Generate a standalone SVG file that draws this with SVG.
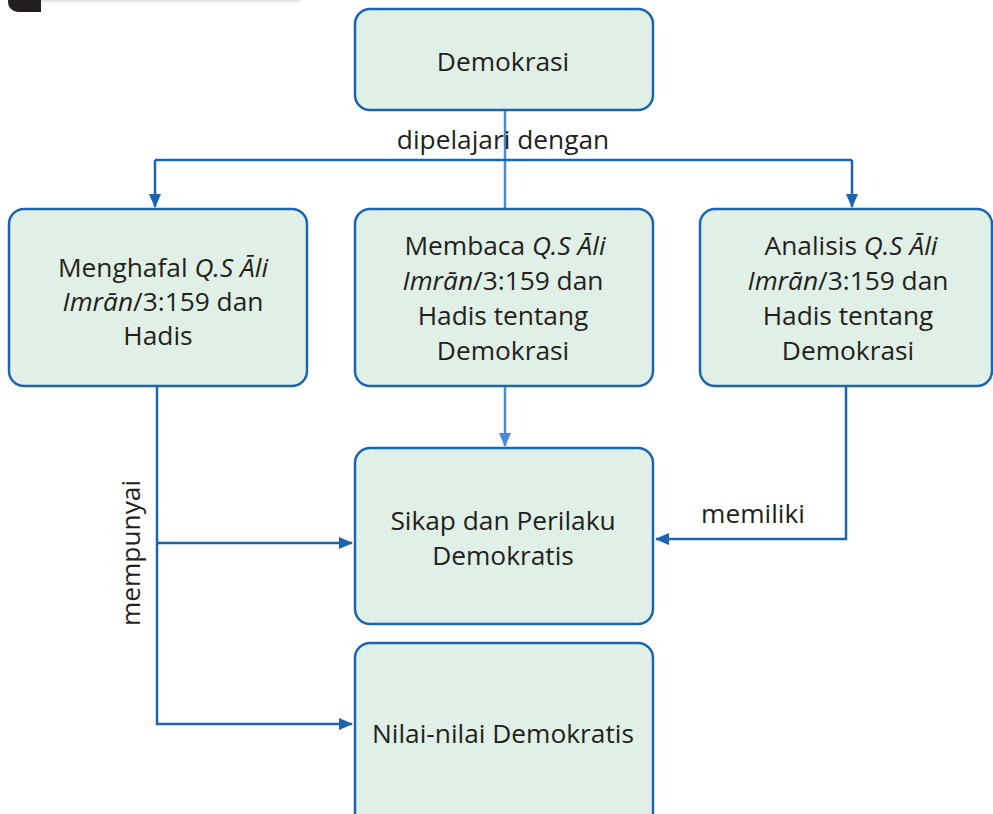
<svg xmlns="http://www.w3.org/2000/svg" width="993" height="814" viewBox="0 0 993 814">
<defs>
<style>
.box{fill:#e1f0e6;stroke:#1a64b2;stroke-width:2.5}
.t{font-family:"Open Sans","Liberation Sans",sans-serif;font-size:26.3px;fill:#231f20;text-anchor:middle}
.i{font-style:italic}
.c{fill:none;stroke:#1a64b2;stroke-width:2.5}
.cl{fill:none;stroke:#4a8bd0;stroke-width:2.5}
</style>
<marker id="ah" viewBox="0 0 14 12" refX="13" refY="6" markerWidth="14" markerHeight="12" markerUnits="userSpaceOnUse" orient="auto">
<path d="M0,0 L14,6 L0,12 Z" fill="#1a64b2"/>
</marker>
<marker id="ahl" viewBox="0 0 14 12" refX="13" refY="6" markerWidth="14" markerHeight="12" markerUnits="userSpaceOnUse" orient="auto">
<path d="M0,0 L14,6 L0,12 Z" fill="#4a8bd0"/>
</marker>
<linearGradient id="sh" x1="0" y1="0" x2="0" y2="1">
<stop offset="0" stop-color="#d8d8d8"/>
<stop offset="1" stop-color="#ffffff" stop-opacity="0"/>
</linearGradient>
</defs>
<rect width="993" height="814" fill="#ffffff"/>
<g id="corner">
<rect x="38" y="0" width="262" height="5" fill="url(#sh)"/>
<path d="M8,0 H41 V12 H18 A10,10 0 0 1 8,2 Z" fill="#231f20"/>
</g>
<g id="connectors">
<path class="cl" d="M505,110 V210"/>
<path class="c" d="M155,160 H852"/>
<path class="c" d="M155,160 V207" marker-end="url(#ah)"/>
<path class="c" d="M852,160 V207" marker-end="url(#ah)"/>
<path class="cl" d="M505,387 V446" marker-end="url(#ahl)"/>
<path class="c" d="M157,387 V724 H352" marker-end="url(#ah)"/>
<path class="c" d="M157,543 H352" marker-end="url(#ah)"/>
<path class="c" d="M846,387 V539 H656" marker-end="url(#ah)"/>
<text class="t" x="503" y="149">dipelajari dengan</text>
<text class="t" transform="translate(140,553) rotate(-90)">mempunyai</text>
<text class="t" x="753" y="523">memiliki</text>
</g>
<g id="demokrasi">
<rect class="box" x="355" y="9" width="298" height="101" rx="15"/>
<text class="t" x="503" y="71">Demokrasi</text>
</g>
<g id="menghafal">
<rect class="box" x="9" y="209" width="298" height="177" rx="15"/>
<text class="t" x="163" y="277">Menghafal <tspan class="i">Q.S Āli</tspan></text>
<text class="t" x="163" y="311"><tspan class="i">Imrān</tspan>/3:159 dan</text>
<text class="t" x="158" y="345">Hadis</text>
</g>
<g id="membaca">
<rect class="box" x="355" y="209" width="298" height="177" rx="15"/>
<text class="t" x="505" y="255">Membaca <tspan class="i">Q.S Āli</tspan></text>
<text class="t" x="503" y="290"><tspan class="i">Imrān</tspan>/3:159 dan</text>
<text class="t" x="503" y="325">Hadis tentang</text>
<text class="t" x="503" y="360">Demokrasi</text>
</g>
<g id="analisis">
<rect class="box" x="700" y="209" width="292" height="177" rx="15"/>
<text class="t" x="851" y="255">Analisis <tspan class="i">Q.S Āli</tspan></text>
<text class="t" x="848" y="290"><tspan class="i">Imrān</tspan>/3:159 dan</text>
<text class="t" x="848" y="325">Hadis tentang</text>
<text class="t" x="848" y="360">Demokrasi</text>
</g>
<g id="sikap">
<rect class="box" x="355" y="448" width="298" height="176" rx="15"/>
<text class="t" x="503" y="530">Sikap dan Perilaku</text>
<text class="t" x="503" y="565">Demokratis</text>
</g>
<g id="nilai">
<rect class="box" x="355" y="643" width="298" height="190" rx="15"/>
<text class="t" x="503" y="743">Nilai-nilai Demokratis</text>
</g>
</svg>
